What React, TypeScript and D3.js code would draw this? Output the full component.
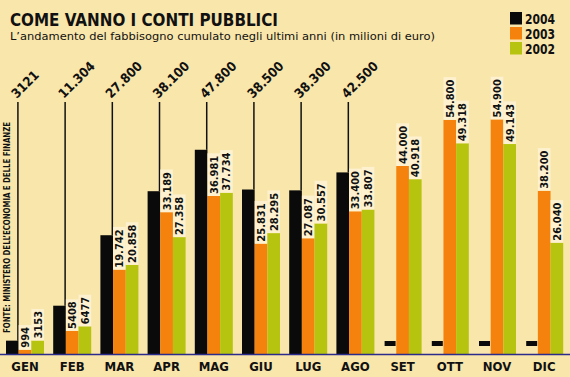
import React from "react";
import * as d3 from "d3";

const months = ["GEN", "FEB", "MAR", "APR", "MAG", "GIU", "LUG", "AGO", "SET", "OTT", "NOV", "DIC"];
const seriesNames = ["2004", "2003", "2002"];
const v2004: (number | null)[] = [3121, 11304, 27800, 38100, 47800, 38500, 38300, 42500, null, null, null, null];
const v2003 = [994, 5408, 19742, 33189, 36981, 25831, 27087, 33400, 44000, 54800, 54900, 38200];
const v2002 = [3153, 6477, 20858, 27358, 37734, 28295, 30557, 33807, 40918, 49318, 49143, 26040];
const colors = ["#0a0a0a", "#f5820c", "#b6c40f"];

const W = 570;
const H = 377;
const BG = "#f9e6ab";
const LABEL_BG = "#fdf1cf";
const FONT = "'DejaVu Sans Condensed', 'DejaVu Sans', sans-serif";

function fmt(v: number): string {
  if (v < 10000) return String(v);
  const s = String(v);
  return s.slice(0, s.length - 3) + "." + s.slice(s.length - 3);
}

export default function App() {
  const x = d3.scaleBand<string>().domain(months).range([1.4, 567.8]).paddingInner(0.195).paddingOuter(0.0975);
  const xs = d3.scaleBand<string>().domain(seriesNames).range([0, x.bandwidth()]).padding(0);
  const y = d3.scaleLinear().domain([0, 55000]).range([354, 119]);
  const bw = xs.bandwidth();

  const labelLen = (t: string) => {
    let l = 0;
    for (const c of t) l += c === "." ? 4.2 : 6.9;
    return l;
  };

  return (
    <svg width={W} height={H} style={{ position: "fixed", left: 0, top: 0, display: "block" }} fontFamily={FONT}>
      <rect x={0} y={0} width={W} height={H} fill={BG} />
      <text x={10} y={26} fontSize={18} fontWeight="bold" fill="#111" textLength={268} lengthAdjust="spacingAndGlyphs">
        COME VANNO I CONTI PUBBLICI
      </text>
      <text x={10} y={40} fontSize={11} fill="#111" textLength={425} lengthAdjust="spacingAndGlyphs">
        L’andamento del fabbisogno cumulato negli ultimi anni (in milioni di euro)
      </text>

      {seriesNames.map((s, i) => (
        <g key={s}>
          <rect x={510} y={12 + i * 15} width={12} height={12.5} fill={colors[i]} />
          <text x={525} y={24 + i * 15} fontSize={14} fontWeight="bold" fill="#111" textLength={30} lengthAdjust="spacingAndGlyphs">
            {s}
          </text>
        </g>
      ))}

      <text
        transform="translate(9.5,333) rotate(-90)"
        fontSize={9}
        fontWeight="bold"
        fill="#111"
        textLength={211}
        lengthAdjust="spacingAndGlyphs"
      >
        FONTE: MINISTERO DELL’ECONOMIA E DELLE FINANZE
      </text>

      {months.map((m, i) => {
        const gx = x(m)!;
        const v4 = v2004[i];
        const bx = gx + xs("2004")!;
        const others = [
          { s: "2003", v: v2003[i], c: colors[1] },
          { s: "2002", v: v2002[i], c: colors[2] },
        ];
        return (
          <g key={m}>
            {v4 !== null ? (
              <g>
                <rect x={bx} y={y(v4)} width={bw} height={y(0) - y(v4)} fill={colors[0]} />
                <line x1={bx + bw - 0.75} x2={bx + bw - 0.75} y1={102} y2={y(v4)} stroke="#111" strokeWidth={1.5} />
                <text
                  transform={`translate(${bx + bw - 2},${99}) rotate(-45)`}
                  fontSize={13}
                  fontWeight="bold"
                  fill="#111"
                >
                  {fmt(v4)}
                </text>
              </g>
            ) : (
              <rect x={bx + 1} y={341} width={11} height={5} fill={colors[0]} />
            )}
            {others.map((o) => {
              const ox = gx + xs(o.s)!;
              const t = fmt(o.v);
              const len = labelLen(t);
              return (
                <g key={o.s}>
                  <rect x={ox} y={y(o.v)} width={bw} height={y(0) - y(o.v)} fill={o.c} />
                  <rect x={ox} y={y(o.v) - len - 4} width={bw} height={len + 4} fill={LABEL_BG} />
                  <text
                    transform={`translate(${ox + bw / 2 + 4},${y(o.v) - 2}) rotate(-90)`}
                    fontSize={11}
                    fontWeight="bold"
                    fill="#111"
                  >
                    {t}
                  </text>
                </g>
              );
            })}
            <text x={gx + x.bandwidth() / 2} y={371} fontSize={13} fontWeight="bold" fill="#111" textAnchor="middle">
              {m}
            </text>
          </g>
        );
      })}

      <line x1={0} x2={W} y1={354.5} y2={354.5} stroke="#2b2b8c" strokeWidth={1.5} />
    </svg>
  );
}
